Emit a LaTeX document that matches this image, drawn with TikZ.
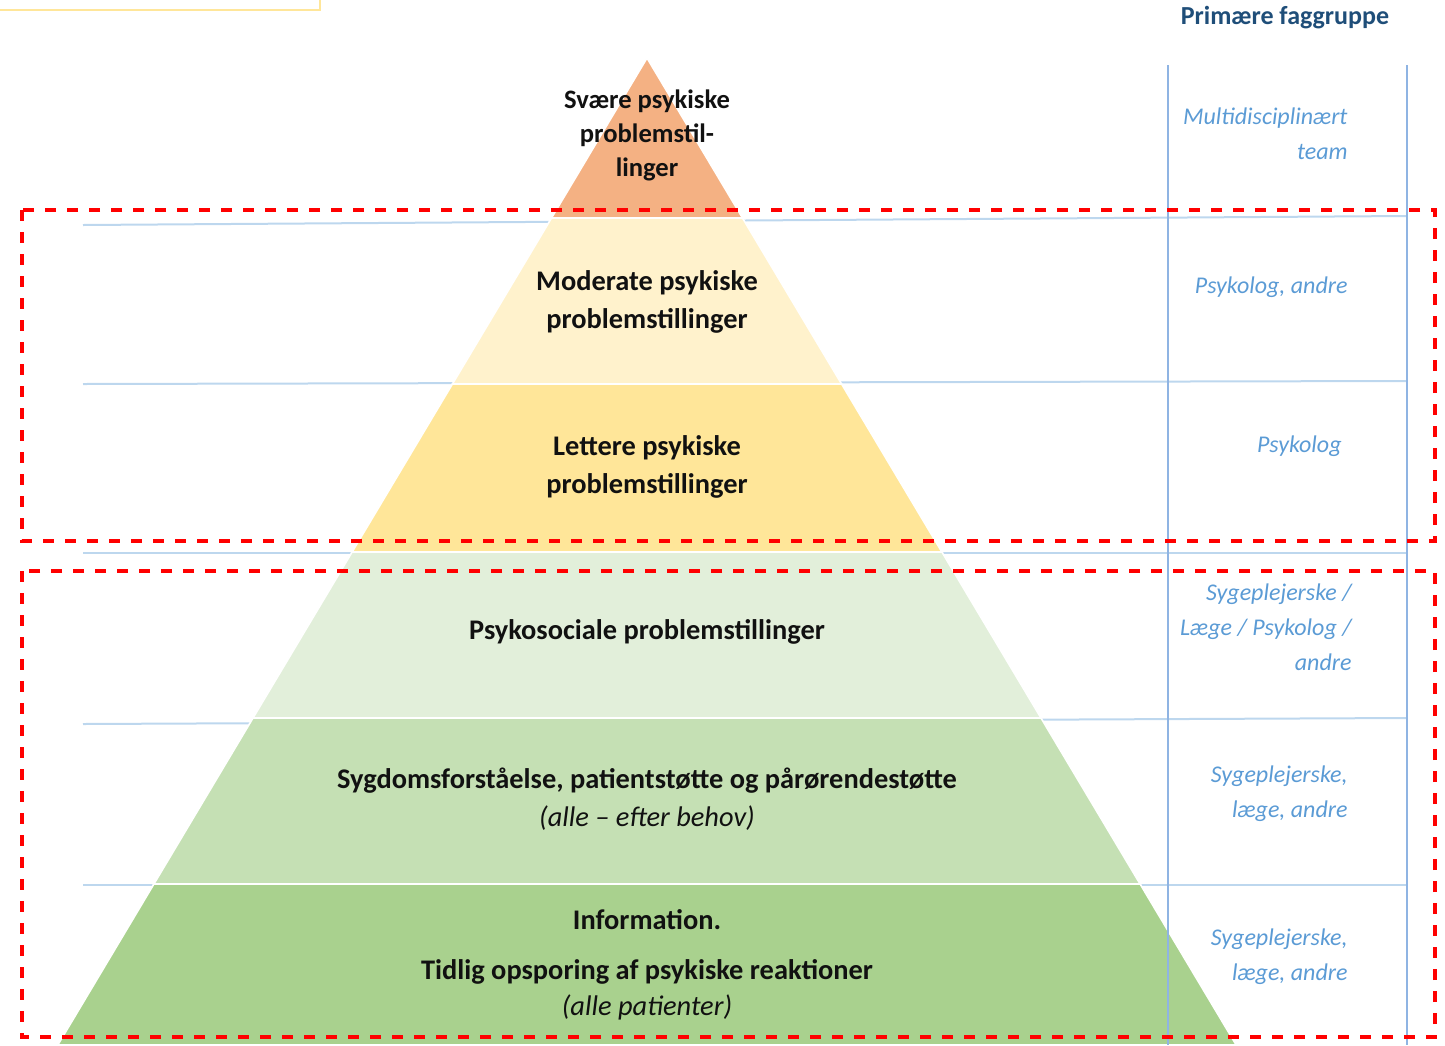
\documentclass[tikz,border=0pt]{standalone}
\usepackage{fontspec}
\setmainfont{Carlito}
\definecolor{c1}{HTML}{F4B183}
\definecolor{c2}{HTML}{FFF2CC}
\definecolor{c3}{HTML}{FFE699}
\definecolor{c4}{HTML}{E2EFDA}
\definecolor{c5}{HTML}{C5E0B4}
\definecolor{c6}{HTML}{A9D18E}
\definecolor{grpblue}{HTML}{5B9BD5}
\definecolor{hdrblue}{HTML}{1F4E79}
\definecolor{hblue}{HTML}{BDD7EE}
\definecolor{vblue}{HTML}{8FB4E3}
\definecolor{yline}{HTML}{FFE699}
\definecolor{txt}{HTML}{111111}
\begin{document}
\begin{tikzpicture}[x=0.5pt,y=-0.5pt,
  lvl/.style={font=\bfseries\fontsize{14.2}{19}\selectfont, align=center, text=txt, inner sep=0pt},
  grp/.style={font=\itshape\fontsize{12}{17.5}\selectfont, align=right, text=grpblue, anchor=east, inner sep=0pt},
  hline/.style={draw=hblue, line width=1pt},
  vline/.style={draw=vblue, line width=1pt},
  redbox/.style={draw=red, line width=1.6pt, dash pattern=on 5.5pt off 5.5pt},
  level/.style={draw=white, line width=0.8pt}]
\useasboundingbox (0,0) rectangle (1445,1045);
% top-left remnant
\draw[yline, line width=0.8pt] (0,10) -- (320,10) -- (320,0);
% horizontal guide lines (behind pyramid)
\draw[hline] (83,225) -- (1407,216);
\draw[hline] (83,384) -- (1407,381);
\draw[hline] (83,553) -- (1407,553);
\draw[hline] (83,724) -- (1407,718);
\draw[hline] (83,885) -- (1407,885);
% pyramid levels
\fill[c1, level] (647,58) -- (742.5,218) -- (551.5,218) -- cycle;
\fill[c2, level] (551.5,218) -- (742.5,218) -- (841.6,384) -- (452.4,384) -- cycle;
\fill[c3, level] (452.4,384) -- (841.6,384) -- (941.9,552) -- (352.1,552) -- cycle;
\fill[c4, level] (352.1,552) -- (941.9,552) -- (1041,718) -- (253,718) -- cycle;
\fill[c5, level] (253,718) -- (1041,718) -- (1140.1,884) -- (153.9,884) -- cycle;
\fill[c6, level] (153.9,884) -- (1140.1,884) -- (1236.2,1045) -- (57.8,1045) -- cycle;
\draw[white, line width=1pt] (551.5,218) -- (742.5,218);
\draw[white, line width=1pt] (452.4,384) -- (841.6,384);
\draw[white, line width=1pt] (352.1,552) -- (941.9,552);
\draw[white, line width=1pt] (253,718) -- (1041,718);
\draw[white, line width=1pt] (153.9,884) -- (1140.1,884);
% vertical column lines
\draw[vline] (1168,65) -- (1168,1045);
\draw[vline] (1407,65) -- (1407,1045);
% red dashed boxes
\draw[redbox] (22,210) rectangle (1435,541);
\draw[redbox] (22,571) rectangle (1435,1037);
% pyramid texts
\node[lvl, font=\bfseries\fontsize{13.3}{17}\selectfont] (t1) at (647,135) {Svære psykiske\\problemstil-\\linger};
\node[lvl] (t2) at (647,302) {Moderate psykiske\\problemstillinger};
\node[lvl] (t3) at (647,467) {Lettere psykiske\\problemstillinger};
\node[lvl] (t4) at (647,632) {Psykosociale problemstillinger};
\node[lvl] (t5) at (647,799) {Sygdomsforståelse, patientstøtte og pårørendestøtte\\\mdseries\itshape (alle – efter behov)};
\node[lvl] (t6a) at (647,920) {Information.};
\node[lvl, font=\bfseries\fontsize{14.2}{18}\selectfont] (t6b) at (647,990) {Tidlig opsporing af psykiske reaktioner\\\mdseries\itshape (alle patienter)};
% header
\node[font=\bfseries\fontsize{13}{16}\selectfont, text=hdrblue, inner sep=0pt] (hdr) at (1285,18) {Primære faggruppe};
% right column texts
\node[grp] (g1) at (1348,134) {Multidisciplinært\\team};
\node[grp] (g2) at (1348,287) {Psykolog, andre};
\node[grp] (g3) at (1342,446) {Psykolog};
\node[grp] (g4) at (1352,627) {Sygeplejerske /\\Læge / Psykolog /\\andre};
\node[grp] (g5) at (1348,794) {Sygeplejerske,\\læge, andre};
\node[grp] (g6) at (1348,957) {Sygeplejerske,\\læge, andre};
\end{tikzpicture}
\end{document}
